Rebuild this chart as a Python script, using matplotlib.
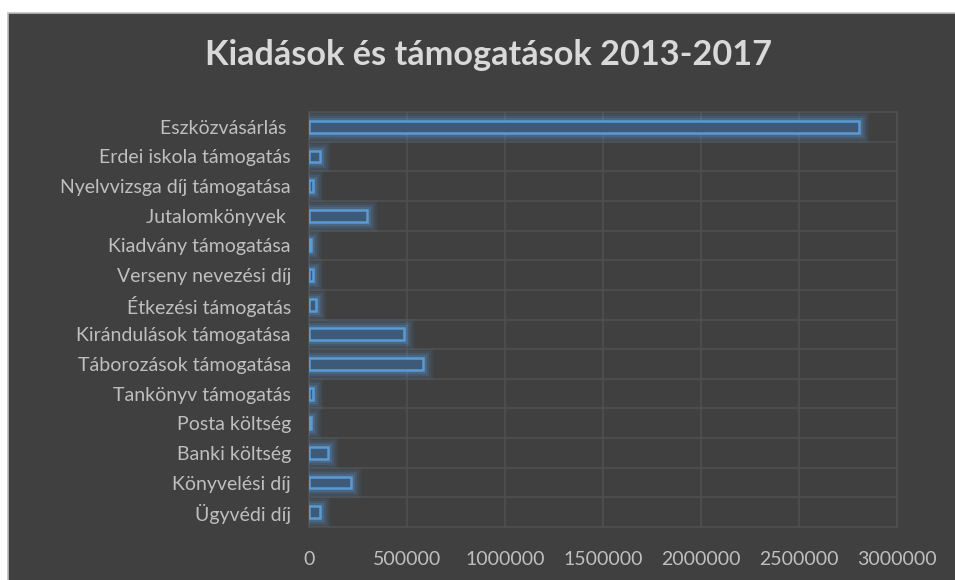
import matplotlib
matplotlib.use("Agg")
import matplotlib.pyplot as plt
import matplotlib.patheffects as pe
from matplotlib.patches import Rectangle

categories = [
    "Ügyvédi díj",
    "Könyvelési díj",
    "Banki költség",
    "Posta költség",
    "Tankönyv támogatás",
    "Táborozások támogatása",
    "Kirándulások támogatása",
    "Étkezési támogatás",
    "Verseny nevezési díj",
    "Kiadvány támogatása",
    "Jutalomkönyvek ",
    "Nyelvvizsga díj támogatása",
    "Erdei iskola támogatás",
    "Eszközvásárlás ",
]
values = [56000, 216000, 98000, 12000, 22000, 583000, 485000, 36000, 22000,
          10000, 296000, 19000, 56000, 2806000]
xticks = [0, 500000, 1000000, 1500000, 2000000, 2500000, 3000000]
title = "Kiadások és támogatások 2013-2017"

plt.rcParams['font.family'] = ['Lato', 'DejaVu Sans']

W, H = 955, 580
fig = plt.figure(figsize=(W / 100, H / 100), dpi=100, facecolor="white")

# chart area background
bg = Rectangle((8 / W, -0.05), (W + 20) / W, (H - 13) / H + 0.05, transform=fig.transFigure,
               facecolor="#404040", edgecolor="#BFBFBF", linewidth=1.2, zorder=-10)
fig.patches.append(bg)

left, right, top, bottom = 309, 897, 112, 527
ax = fig.add_axes([left / W, (H - bottom) / H, (right - left) / W, (bottom - top) / H])
ax.set_facecolor("#404040")

glow = [
    pe.Stroke(linewidth=14, foreground="#5B9BD5", alpha=0.07),
    pe.Stroke(linewidth=11, foreground="#5B9BD5", alpha=0.10),
    pe.Stroke(linewidth=8, foreground="#5B9BD5", alpha=0.14),
    pe.Stroke(linewidth=5, foreground="#5B9BD5", alpha=0.22),
    pe.Normal(),
]
ypos = list(range(len(categories)))
bars = ax.barh(ypos, values, height=0.4, color="#3D5A78", edgecolor="#5B9BD5",
               linewidth=1.8, zorder=3)
for b in bars:
    b.set_path_effects(glow)

ax.set_xlim(0, 3000000)
ax.set_ylim(-0.5, len(categories) - 0.5)
ax.set_xticks(xticks)
ax.set_xticklabels([str(v) for v in xticks])
ax.set_yticks(ypos)
ax.set_yticklabels(categories)

ax.set_yticks([y + 0.5 for y in ypos[:-1]], minor=True)
ax.grid(True, axis="x", which="major", color="#4F4F4F", linewidth=1.2, zorder=0)
ax.grid(True, axis="y", which="minor", color="#4F4F4F", linewidth=1.2, zorder=0)
ax.set_axisbelow(True)

for s in ax.spines.values():
    s.set_color("#4F4F4F")
    s.set_linewidth(1.2)

ax.tick_params(axis="both", which="both", length=0)
ax.tick_params(axis="x", colors="#BFBFBF", labelsize=14, pad=17)
ax.tick_params(axis="y", colors="#BFBFBF", labelsize=14, pad=13)

fig.text(488 / W, 1 - 55 / H, title, ha="center", va="center", color="#D9D9D9",
         fontsize=24.7, fontweight="bold")

fig.savefig("out.png", dpi=100, facecolor="white")
